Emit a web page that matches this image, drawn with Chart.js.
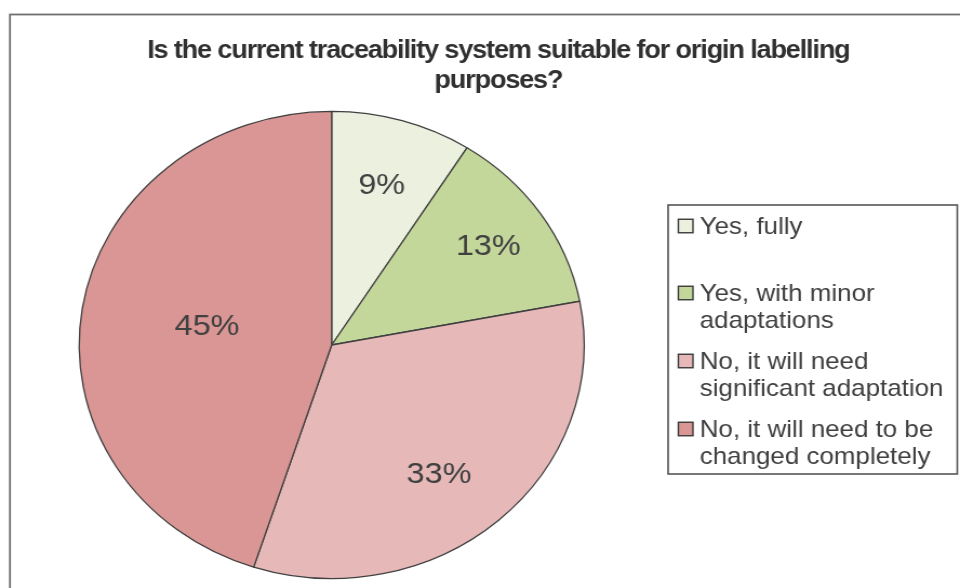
<!DOCTYPE html>
<html>
<head>
<meta charset="utf-8">
<script src="https://cdn.jsdelivr.net/npm/chart.js@4/dist/chart.umd.min.js"></script>
<style>
  html, body { margin: 0; padding: 0; background: #fff; overflow: hidden; }
  #chart { display: block; }
</style>
</head>
<body>
<!-- drawing surface is laid out narrower and widened by CSS, giving the oval pie -->
<canvas id="chart" width="888" height="588" style="width:960px;height:588px"></canvas>
<script>
// ---- data ----
const titleLines = ['Is the current traceability system suitable for origin labelling', 'purposes?'];
const categories = [
  'Yes, fully',
  'Yes, with minor adaptations',
  'No, it will need significant adaptation',
  'No, it will need to be changed completely'
];
const legendLines = [
  ['Yes, fully'],
  ['Yes, with minor', 'adaptations'],
  ['No, it will need', 'significant adaptation'],
  ['No, it will need to be', 'changed completely']
];
const shares = [9, 13, 33, 45];
const sliceColors = ['#EBF1DE', '#C4D79B', '#E6B9B8', '#D99694'];

const FONT = '"Liberation Sans", Arial, Helvetica, sans-serif';
const TEXT = '#404040';

// white background and the outer frame of the chart
const framePlugin = {
  id: 'frame',
  beforeDraw(chart) {
    const ctx = chart.ctx;
    ctx.save();
    ctx.fillStyle = '#ffffff';
    ctx.fillRect(0, 0, chart.width, chart.height);
    ctx.strokeStyle = '#707070';
    ctx.lineWidth = 1.8;
    ctx.strokeRect(9.2, 14.5, chart.width + 40, chart.height + 40);
    ctx.restore();
  }
};

// two-line bold heading
const headingPlugin = {
  id: 'heading',
  afterDraw(chart, args, opts) {
    const ctx = chart.ctx;
    ctx.save();
    ctx.font = 'bold 25px ' + FONT;
    if ('letterSpacing' in ctx) ctx.letterSpacing = '-1.05px';
    ctx.fillStyle = '#303030';
    ctx.textAlign = 'center';
    ctx.textBaseline = 'alphabetic';
    opts.lines.forEach((line, i) => {
      ctx.fillText(line, opts.x, opts.y + i * opts.lineHeight);
    });
    ctx.restore();
  }
};

// percentage text inside each slice
const sliceLabelPlugin = {
  id: 'sliceLabels',
  afterDatasetsDraw(chart, args, opts) {
    const ctx = chart.ctx;
    const meta = chart.getDatasetMeta(0);
    ctx.save();
    ctx.font = '30px ' + FONT;
    ctx.fillStyle = TEXT;
    ctx.textAlign = 'center';
    ctx.textBaseline = 'middle';
    meta.data.forEach((arc, i) => {
      const p = arc.getProps(['x', 'y', 'startAngle', 'endAngle', 'outerRadius'], true);
      const mid = (p.startAngle + p.endAngle) / 2 + (opts.angleShift[i] || 0) * Math.PI / 180;
      const r = p.outerRadius * opts.radial[i];
      const value = chart.data.datasets[0].data[i];
      ctx.fillText(value + '%', p.x + Math.cos(mid) * r, p.y + Math.sin(mid) * r);
    });
    ctx.restore();
  }
};

// boxed legend with wrapped entries
const boxLegendPlugin = {
  id: 'boxLegend',
  afterDraw(chart, args, opts) {
    const ctx = chart.ctx;
    const colors = chart.data.datasets[0].backgroundColor;
    ctx.save();
    ctx.strokeStyle = '#555555';
    ctx.lineWidth = 1.6;
    ctx.strokeRect(opts.left, opts.top, opts.right - opts.left, opts.bottom - opts.top);
    ctx.font = '24px ' + FONT;
    ctx.textAlign = 'left';
    ctx.textBaseline = 'alphabetic';
    opts.lines.forEach((lines, i) => {
      const base = opts.baselines[i];
      const cy = base - 8;
      ctx.fillStyle = colors[i];
      ctx.fillRect(opts.markerX, cy - opts.marker / 2, opts.marker, opts.marker);
      ctx.strokeStyle = '#3a3a3a';
      ctx.lineWidth = 1.4;
      ctx.strokeRect(opts.markerX, cy - opts.marker / 2, opts.marker, opts.marker);
      ctx.fillStyle = TEXT;
      lines.forEach((t, j) => ctx.fillText(t, opts.textX, base + j * opts.lineHeight));
    });
    ctx.restore();
  }
};

new Chart(document.getElementById('chart'), {
  type: 'pie',
  data: {
    labels: categories,
    datasets: [{
      data: shares,
      backgroundColor: sliceColors,
      borderColor: '#404040',
      borderWidth: 1.3
    }]
  },
  options: {
    responsive: false,
    animation: false,
    events: [],
    layout: { padding: { left: 72.6, right: 347, top: 110.8, bottom: 8.8 } },
    plugins: {
      legend: { display: false },
      title: { display: false },
      tooltip: { enabled: false },
      heading: { lines: titleLines, x: 461, y: 58, lineHeight: 30 },
      sliceLabels: { radial: [0.71, 0.75, 0.70, 0.50], angleShift: [0, 0, 4, 0] },
      boxLegend: {
        lines: legendLines,
        left: 618, right: 885.5, top: 205, bottom: 474,
        markerX: 627.5, marker: 13.5,
        textX: 647.2,
        baselines: [234, 301, 369, 437],
        lineHeight: 26.5
      }
    }
  },
  plugins: [framePlugin, headingPlugin, sliceLabelPlugin, boxLegendPlugin]
});
</script>
</body>
</html>
